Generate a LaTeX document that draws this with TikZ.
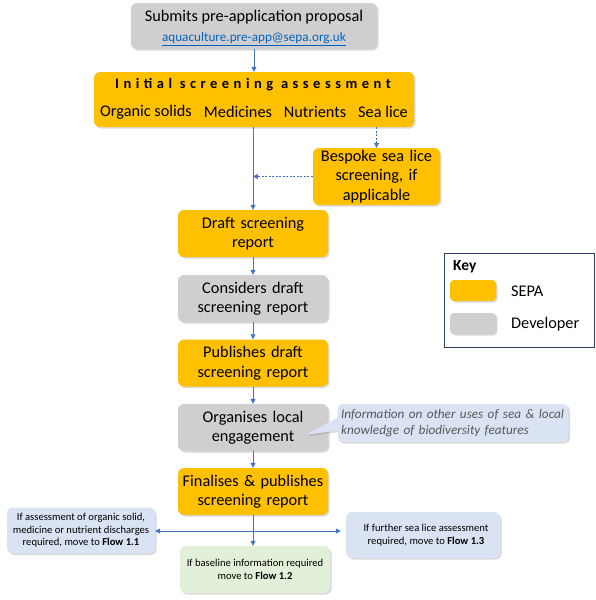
\documentclass[tikz,border=0pt]{standalone}
\usepackage{fontspec}
\setmainfont{Carlito}
\usetikzlibrary{arrows.meta,shadows,shapes.callouts}
\definecolor{sepaorange}{HTML}{FFC000}
\definecolor{devgrey}{HTML}{D0CECE}
\definecolor{noteblue}{HTML}{DAE3F3}
\definecolor{notegreen}{HTML}{E2F0D9}
\definecolor{arrowblue}{HTML}{4472C4}
\definecolor{linkblue}{HTML}{0563C1}
\definecolor{keyframe}{HTML}{2F3F5F}
\definecolor{notegrey}{HTML}{595959}
\tikzset{
	box/.style={rounded corners=6pt, align=center, inner sep=0pt, drop shadow={shadow xshift=1.5pt, shadow yshift=-1.5pt, opacity=0.3}},
	sepabox/.style={box, fill=sepaorange, minimum width=150pt, minimum height=47pt, text width=148pt, font=\fontsize{16.3}{19.5}\selectfont},
	devbox/.style={sepabox, fill=devgrey},
	flowbox/.style={box, fill=noteblue, minimum height=46pt, font=\fontsize{10.6}{12.5}\selectfont},
	itemtext/.style={font=\fontsize{16.3}{19.5}\selectfont, inner sep=0pt},
	arr/.style={draw=arrowblue, line width=0.6pt, -{Triangle[length=5pt, width=5pt]}},
	dasharr/.style={arr, dash pattern=on 2pt off 1.5pt},
	line/.style={draw=arrowblue, line width=0.6pt},
}

\begin{document}
\begin{tikzpicture}[x=1pt, y=-1pt]
			%%%%% START %%%%%
			\useasboundingbox (0, 0) rectangle (595, 600);
			
			% pre-application
			\node[box, fill=devgrey, minimum width=246pt, minimum height=46pt] (submit) at (254, 26) {};
			\node[itemtext] (submittext) at (254, 17) {Submits pre-application proposal};
			\node[inner sep=0pt, font=\fontsize{13.2}{15}\selectfont, text=linkblue] (link) at (254, 39) {\underline{aquaculture.pre-app@sepa.org.uk}};
			
			% initial screening
			\node[box, fill=sepaorange, minimum width=320pt, minimum height=55pt] (initial) at (254, 99.5) {};
			\node[inner sep=0pt, font=\fontsize{14.5}{17}\bfseries\addfontfeatures{LetterSpace=31}] (title) at (253, 85) {Initial screening assessment};
			\node[itemtext] (organic) at (146, 112) {Organic solids};
			\node[itemtext] (medicines) at (238, 112) {Medicines};
			\node[itemtext] (nutrients) at (315, 112) {Nutrients};
			\node[itemtext] (sealice) at (383, 112) {Sea lice};
			
			\node[sepabox, minimum width=127pt, minimum height=57pt, text width=126pt] (bespoke) at (376.5, 176.5) {Bespoke sea lice\\screening, if\\applicable};
			
			% main column
			\node[sepabox] (draft) at (253, 233.5) {Draft screening\\report};
			\node[devbox] (considers) at (253, 298.5) {Considers draft\\screening report};
			\node[sepabox] (publishes) at (253, 363) {Publishes draft\\screening report};
			\node[devbox] (organise) at (253, 427.5) {Organises local\\engagement};
			\node[sepabox] (finalise) at (253, 491.5) {Finalises \& publishes\\screening report};
			
			\node[rectangle callout, callout absolute pointer={(305, 435)}, callout pointer width=13pt, fill=noteblue, rounded corners=5pt, minimum width=231pt, minimum height=38pt, text width=224pt, align=left, inner sep=0pt, text=notegrey, font=\fontsize{13.2}{16}\itshape\selectfont, drop shadow={shadow xshift=1.5pt, shadow yshift=-1.5pt, opacity=0.3}] (info) at (453, 423) {Information on other uses of sea \& local\\knowledge of biodiversity features};
			
			% outcomes
			\node[flowbox, minimum width=148pt] (flowone) at (81, 530.5) {If assessment of organic solid,\\medicine or nutrient discharges\\required, move to \textbf{Flow 1.1}};
			\node[flowbox, fill=notegreen, minimum width=150pt, minimum height=47pt] (flowtwo) at (255, 569.5) {If baseline information required\\move to \textbf{Flow 1.2}};
			\node[flowbox, minimum width=154pt] (flowthree) at (423, 535) {\hspace*{6pt}If further sea lice assessment\\\hspace*{6pt}required, move to \textbf{Flow 1.3}};
			\coordinate (split) at (253, 531);
			
			% key
			\node[draw=keyframe, line width=1pt, minimum width=150pt, minimum height=94pt, inner sep=0pt] (key) at (519, 300) {};
			\node[anchor=west, inner sep=0pt, font=\fontsize{15.5}{18}\bfseries\selectfont] (keytitle) at (453, 267) {Key};
			\node[box, fill=sepaorange, minimum width=46pt, minimum height=21pt, rounded corners=4pt] (keysepa) at (473, 290.5) {};
			\node[anchor=west, itemtext] (keysepalabel) at (511, 291) {SEPA};
			\node[box, fill=devgrey, minimum width=46pt, minimum height=21pt, rounded corners=4pt] (keydev) at (473, 323.5) {};
			\node[anchor=west, itemtext] (keydevlabel) at (511, 324) {Developer};
			
			% connectors
			\draw[arr] (submit) -- (initial);
			\draw[arr] (initial.south -| draft.north) -- (draft);
			\draw[dasharr] (initial.south -| bespoke.north) -- (bespoke);
			\draw[dasharr] (bespoke.west) -- (bespoke.west -| draft.north);
			\draw[arr] (draft) -- (considers);
			\draw[arr] (considers) -- (publishes);
			\draw[arr] (publishes) -- (organise);
			\draw[arr] (organise) -- (finalise);
			\draw[arr] (finalise.south) -- (finalise.south |- flowtwo.north);
			\draw[arr] (split) -- (split -| flowone.east);
			\draw[arr, shorten >=5pt] (split) -- (split -| flowthree.west);
			%%%%% END %%%%%
\end{tikzpicture}
\end{document}
